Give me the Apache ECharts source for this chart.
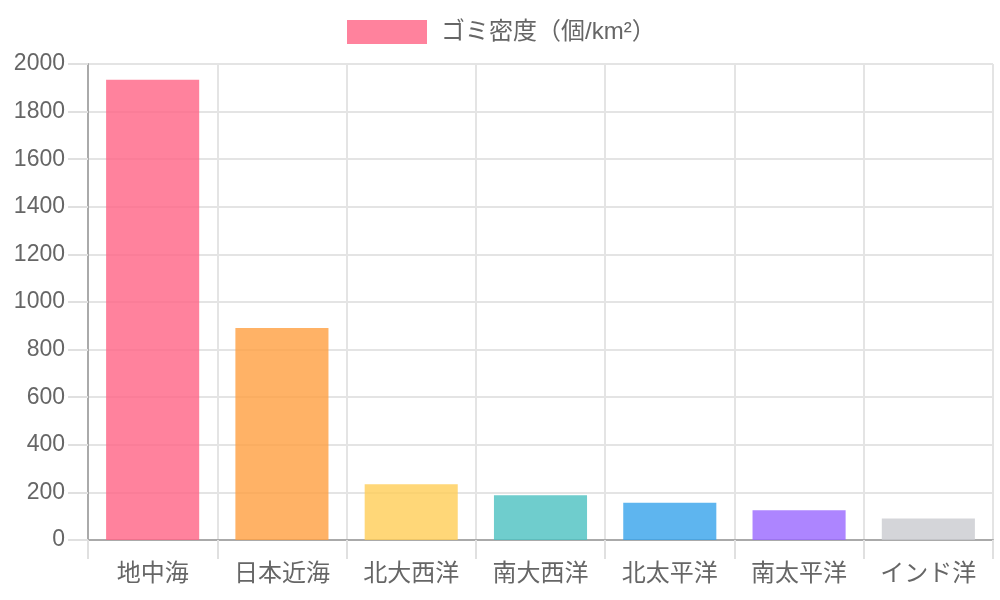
<!DOCTYPE html>
<html>
<head>
<meta charset="utf-8">
<script src="https://cdn.jsdelivr.net/npm/echarts@6/dist/echarts.min.js"></script>
<style>
  html, body { margin: 0; padding: 0; background: #fff; }
  #chart { width: 1000px; height: 600px; }
</style>
</head>
<body>
<div id="chart"></div>
<script>
const categories = ['地中海', '日本近海', '北大西洋', '南大西洋', '北太平洋', '南太平洋', 'インド洋']
const density = [1934, 891, 234, 188, 157, 125, 90]
const barColors = [
  'rgba(255, 99, 132, 0.8)',
  'rgba(255, 159, 64, 0.8)',
  'rgba(255, 205, 86, 0.8)',
  'rgba(75, 192, 192, 0.8)',
  'rgba(54, 162, 235, 0.8)',
  'rgba(153, 102, 255, 0.8)',
  'rgba(201, 203, 207, 0.8)'
]
const seriesName = 'ゴミ密度（個/km²）'

const font = 'Liberation Sans, Arial, Noto Sans CJK JP, sans-serif'
const myChart = echarts.init(document.getElementById('chart'))

const option = {
  animation: false,
  textStyle: { fontFamily: font },
  legend: {
    top: 15,
    left: 342,
    itemWidth: 80,
    itemHeight: 24,
    itemGap: 10,
    icon: 'rect',
    textStyle: { color: '#666', fontSize: 24, fontFamily: font, padding: [0, 0, 0, 9] },
    data: [seriesName]
  },
  grid: { left: 88, right: 7, top: 64, bottom: 60, containLabel: false },
  xAxis: {
    type: 'category',
    data: categories,
    boundaryGap: true,
    axisLine: { lineStyle: { color: '#aaa', width: 2 } },
    axisTick: { show: true, length: 19, lineStyle: { color: '#e0e0e0', width: 2 } },
    axisLabel: { color: '#666', fontSize: 24, fontFamily: font, margin: 22 },
    splitLine: { show: true, lineStyle: { color: '#e4e4e4', width: 2 } }
  },
  yAxis: {
    type: 'value',
    min: 0,
    max: 2000,
    interval: 200,
    axisLine: { show: true, lineStyle: { color: '#aaa', width: 2 } },
    axisTick: { show: true, length: 20, lineStyle: { color: '#e0e0e0', width: 2 } },
    axisLabel: {
      color: '#666', fontSize: 23, fontFamily: font, margin: 23,
      formatter: function (v) { return String(v) }
    },
    splitLine: { show: true, lineStyle: { color: '#e4e4e4', width: 2 } }
  },
  series: [{
    name: seriesName,
    type: 'bar',
    barCategoryGap: '28%',
    itemStyle: { color: barColors[0] },
    data: density.map((v, i) => ({
      value: v,
      itemStyle: { color: barColors[i] }
    }))
  }]
}
myChart.setOption(option)
window.addEventListener('resize', function () {
  myChart.resize()
})
</script>
</body>
</html>
